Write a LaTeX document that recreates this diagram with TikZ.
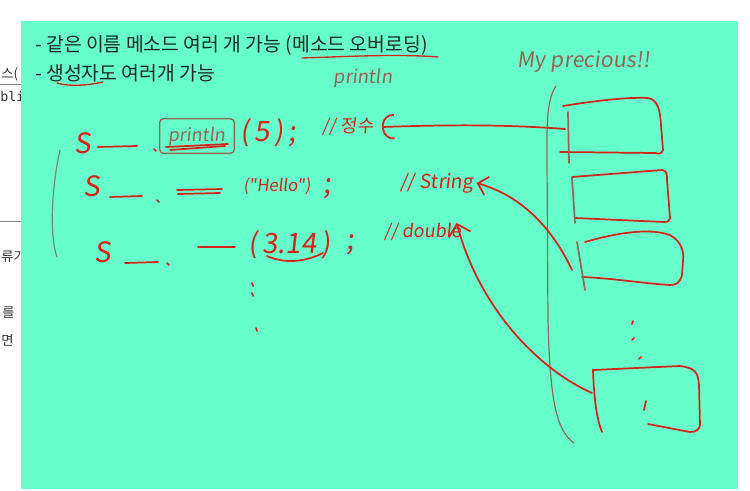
\documentclass[tikz,border=0pt]{standalone}
\usepackage{fontspec}
\setmainfont{Noto Sans CJK KR}
\newfontfamily\hand[FakeSlant=0.12]{Noto Sans CJK KR}
\newfontfamily\mono{DejaVu Sans Mono}
\usetikzlibrary{arrows.meta}
\definecolor{board}{RGB}{102,255,204}
\definecolor{inkred}{RGB}{214,34,24}
\definecolor{inkgray}{RGB}{150,100,85}
\definecolor{pencil}{RGB}{120,135,115}
\definecolor{printed}{RGB}{28,40,36}
\tikzset{
  ink/.style={draw=inkred, line width=1.3pt, line cap=round, line join=round},
  pencilline/.style={draw=pencil, line width=0.9pt, line cap=round},
  side/.style={inner sep=0pt, anchor=west, text=black!80, font=\fontsize{10}{10}\selectfont},
  printline/.style={inner sep=0pt, anchor=west, text=printed, font=\fontsize{14.5}{14.5}\selectfont},
  hw/.style={inner sep=0pt, text=inkred, font=\hand\fontsize{13.5}{13.5}\selectfont},
  hwbig/.style={inner sep=0pt, text=inkred, font=\hand\fontsize{21}{21}\selectfont}
}
\begin{document}
\begin{tikzpicture}[x=0.75pt,y=-0.75pt]
\useasboundingbox (0,0) rectangle (750,490);
\node[side] (f1) at (1,74) {스(}; \node[side, font=\mono\fontsize{10}{10}\selectfont] (f2) at (0,96) {bli};
\node[side] (f3) at (1,257) {류가}; \node[side] (f4) at (2,313) {를}; \node[side] (f5) at (1,340) {면};
\draw[gray] (0,84) -- (21,84); \draw[gray] (0,221) -- (21,221);
\fill[board] (21,21) rectangle (738,489);

\node[printline] (t1) at (35,45) {- 같은 이름 메소드 여러 개 가능 (메소드 오버로딩)};
\node[printline] (t2) at (35,73) {- 생성자도 여러개 가능};
\draw[ink, line width=1pt] (302,58) .. controls (360,56) and (400,54) .. (438,57);
\draw[ink, line width=1pt] (57,83) .. controls (70,87) and (90,85) .. (103,82);
\node[hw, text=inkgray, font=\hand\fontsize{14}{14}\selectfont] (ov) at (363,78) {println};
\node[hw, text=inkgray, font=\hand\fontsize{16}{16}\selectfont] (mine) at (584,62) {My precious!!};

\draw[pencilline] (60,150) .. controls (52,185) and (49,235) .. (57,257);
\node[hwbig] (s1) at (83,143) {S}; \draw[ink] (98,147) -- (137,146); \draw[ink] (154,149) -- (156,151);
\node[hw, text=inkgray, draw=inkgray, line width=1pt, rounded corners=3pt, minimum width=56pt, minimum height=26pt] (p1) at (197,136) {println};
\draw[ink] (166,147) -- (228,144); \draw[ink] (170,150) -- (225,146);
\node[hwbig, anchor=west] (a1) at (240,133) {(\,5\,)\,;};
\node[hw] (c1) at (348,127) {// 정수};

\node[hwbig] (s2) at (92,186) {S}; \draw[ink] (110,197) -- (142,196); \draw[ink] (157,200) -- (159,202);
\draw[ink] (177,190) -- (222,189); \draw[ink] (178,194) -- (220,193);
\node[hwbig, anchor=west, font=\hand\fontsize{12.5}{12.5}\selectfont] (a2) at (243,186) {("Hello")};
\node[hwbig] (e2) at (327,189) {;};
\node[hw, font=\hand\fontsize{14.5}{14.5}\selectfont] (c2) at (437,183) {// String};

\node[hwbig] (s3) at (103,252) {S}; \draw[ink] (125,263) -- (158,262); \draw[ink] (167,263) -- (169,265); \draw[ink] (198,247) -- (235,247);
\node[hwbig, anchor=west] (a3) at (248,245) {(\,3.14\,)};
\draw[ink] (267,256) .. controls (285,264) and (305,262) .. (323,253);
\node[hwbig] (e3) at (350,245) {;};
\node[hw] (c3) at (423,232) {// double};
\draw[ink] (252,283) -- (253,286); \draw[ink] (252,293) -- (253,296); \draw[ink] (256,328) -- (257,331);

\draw[pencilline, draw=inkgray] (556,86) .. controls (546,100) and (547,130) .. (547,160) -- (548,320) .. controls (550,400) and (556,430) .. (574,443);
\draw[ink] (563,106) .. controls (600,100) and (630,97) .. (648,98) .. controls (658,100) and (660,110) .. (661,125) -- (663,150) .. controls (662,154) and (658,154) .. (655,153) -- (560,152);
\draw[ink, draw=inkgray] (568,112) -- (569,163);
\draw[ink] (572,177) -- (662,170) .. controls (667,170) and (667,175) .. (667,180) -- (670,218) .. controls (670,221) and (668,222) .. (664,222) -- (575,218);
\draw[ink, draw=inkgray] (572,178) -- (575,223);
\draw[ink] (585,242) .. controls (620,232) and (650,228) .. (670,235) .. controls (683,242) and (684,255) .. (683,260) -- (682,275) .. controls (680,283) and (676,285) .. (670,285) .. controls (640,283) and (610,278) .. (582,277);
\draw[ink, draw=inkgray] (577,242) -- (585,290);
\draw[ink] (633,321) -- (632,324); \draw[ink] (634,338) -- (632,340); \draw[ink] (641,357) -- (639,359);
\draw[ink] (593,370) -- (680,366) .. controls (695,368) and (698,372) .. (699,385) -- (700,425) .. controls (699,430) and (696,432) .. (690,432) -- (648,424);
\draw[ink] (593,370) .. controls (594,400) and (597,420) .. (602,432); \draw[ink] (646,401) -- (644,410);

\coordinate (b1) at (565,129); \coordinate (b3) at (572,270); \coordinate (b4) at (592,393);
\draw[ink, -{Arc Barb[length=8pt, width=19pt, arc=200]}] (b1) .. controls (500,124) and (440,125) .. ([xshift=6pt]c1.east);
\draw[ink, -{Straight Barb[length=7pt, width=14pt]}] (b3) .. controls (558,240) and (530,198) .. ([xshift=2pt]c2.east);
\draw[ink, -{Straight Barb[length=8pt, width=17pt]}] (b4) .. controls (540,370) and (480,310) .. ([xshift=-4pt]c3.north east);
\end{tikzpicture}
\end{document}
